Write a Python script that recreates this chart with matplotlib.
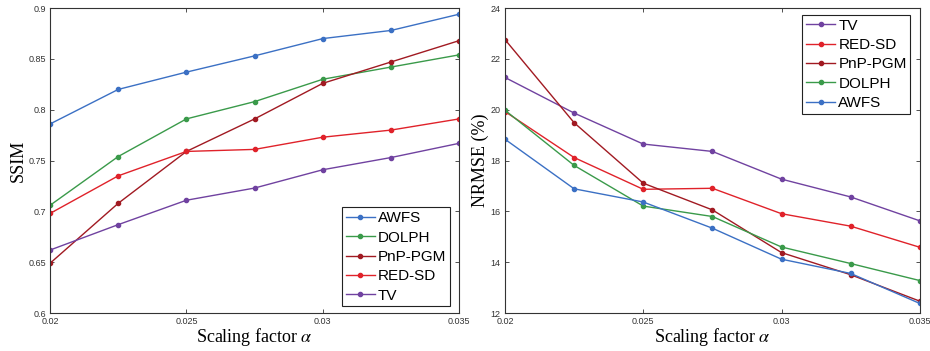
import matplotlib
matplotlib.use('Agg')
import matplotlib.pyplot as plt

# data
alpha = [0.02, 0.0225, 0.025, 0.0275, 0.03, 0.0325, 0.035]

ssim_awfs = [0.786, 0.820, 0.837, 0.853, 0.870, 0.878, 0.894]
ssim_dolph = [0.706, 0.754, 0.791, 0.808, 0.830, 0.842, 0.854]
ssim_pnp = [0.649, 0.708, 0.759, 0.791, 0.826, 0.847, 0.868]
ssim_red = [0.698, 0.735, 0.759, 0.761, 0.773, 0.780, 0.791]
ssim_tv = [0.662, 0.687, 0.711, 0.723, 0.741, 0.753, 0.767]

nrmse_tv = [21.27, 19.87, 18.65, 18.36, 17.27, 16.57, 15.63]
nrmse_red = [19.93, 18.12, 16.87, 16.91, 15.91, 15.42, 14.59]
nrmse_pnp = [22.76, 19.49, 17.11, 16.06, 14.38, 13.51, 12.47]
nrmse_dolph = [19.98, 17.81, 16.21, 15.80, 14.60, 13.95, 13.28]
nrmse_awfs = [18.84, 16.89, 16.37, 15.34, 14.12, 13.56, 12.38]

xticks = [0.02, 0.025, 0.03, 0.035]
xtick_labels = ['0.02', '0.025', '0.03', '0.035']
ssim_ticks = [0.6, 0.65, 0.7, 0.75, 0.8, 0.85, 0.9]
ssim_labels = ['0.6', '0.65', '0.7', '0.75', '0.8', '0.85', '0.9']
nrmse_ticks = [12, 14, 16, 18, 20, 22, 24]

colors = {
    'AWFS': '#3b70c4',
    'DOLPH': '#3a9a4a',
    'PnP-PGM': '#a11a22',
    'RED-SD': '#e0222a',
    'TV': '#7042a0',
}

plt.rcParams['mathtext.fontset'] = 'stix'
serif = 'Liberation Serif'
sans = 'Liberation Sans'

fig = plt.figure(figsize=(9.3, 3.51), dpi=100)
ax1 = fig.add_axes([0.0538, 0.108, 0.44, 0.869])
ax2 = fig.add_axes([0.543, 0.108, 0.446, 0.869])

def style(ax):
    ax.tick_params(direction='in', top=True, right=True, length=3, width=0.6,
                   labelsize=6.5, colors='#333333', pad=3)
    for s in ax.spines.values():
        s.set_linewidth(0.8)
        s.set_color('#333333')
    ax.set_xlim(0.02, 0.035)
    ax.set_xticks(xticks)
    ax.set_xticklabels(xtick_labels, family=sans)
    ax.set_xlabel(r'Scaling factor $\alpha$', family=serif, fontsize=13, labelpad=0)

def add_legend(ax, loc, anchor):
    leg = ax.legend(loc=loc, bbox_to_anchor=anchor, prop={'family': sans, 'size': 11},
                    fancybox=False, handlelength=1.9, handletextpad=0.2, borderpad=0.25,
                    labelspacing=0.35, borderaxespad=0.2)
    leg.get_frame().set_edgecolor('#222222')
    leg.get_frame().set_linewidth(0.8)
    leg.get_frame().set_alpha(1)
    return leg

kw = dict(lw=1.0, marker='o', ms=3)

# left: SSIM
for name, vals in [('AWFS', ssim_awfs), ('DOLPH', ssim_dolph), ('PnP-PGM', ssim_pnp),
                   ('RED-SD', ssim_red), ('TV', ssim_tv)]:
    ax1.plot(alpha, vals, color=colors[name], label=name, **kw)
ax1.set_ylim(0.6, 0.9)
ax1.set_yticks(ssim_ticks)
ax1.set_yticklabels(ssim_labels, family=sans)
ax1.set_ylabel('SSIM', family=serif, fontsize=13, labelpad=1)
style(ax1)
add_legend(ax1, 'lower right', (0.985, 0.012))

# right: NRMSE
for name, vals in [('TV', nrmse_tv), ('RED-SD', nrmse_red), ('PnP-PGM', nrmse_pnp),
                   ('DOLPH', nrmse_dolph), ('AWFS', nrmse_awfs)]:
    ax2.plot(alpha, vals, color=colors[name], label=name, **kw)
ax2.set_ylim(12, 24)
ax2.set_yticks(nrmse_ticks)
ax2.set_yticklabels([str(t) for t in nrmse_ticks], family=sans)
ax2.set_ylabel('NRMSE (%)', family=serif, fontsize=13, labelpad=1)
style(ax2)
add_legend(ax2, 'upper right', (0.985, 0.988))

fig.savefig('out.png', dpi=100)
